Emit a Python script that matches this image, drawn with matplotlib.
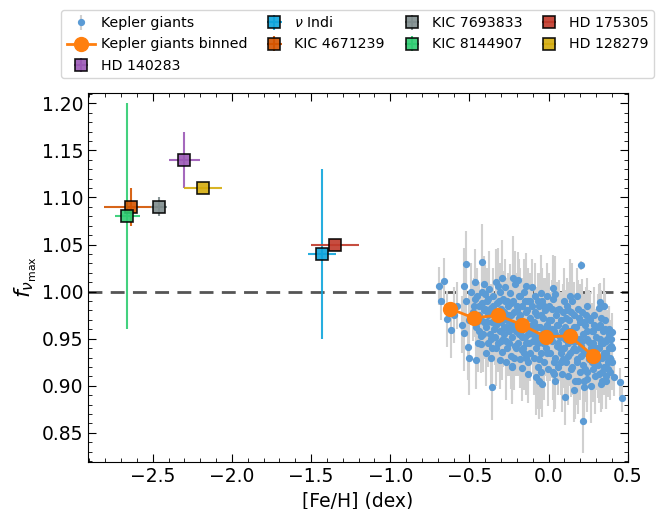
import matplotlib

matplotlib.use("Agg")
import matplotlib.pyplot as plt
from matplotlib.ticker import AutoMinorLocator, MultipleLocator

# Kepler red giants: metallicity, f_numax and its uncertainty
kepler_feh = [
    # outskirts of the cloud
    -0.694, -0.663, -0.677, -0.641, -0.614, -0.536, -0.508, -0.504,
    -0.456, -0.424, -0.367, -0.356, -0.304, -0.230, -0.171, -0.131,
    -0.082, -0.040, 0.034, 0.103, 0.163, 0.220, 0.223, 0.241,
    0.331, 0.413, 0.449, 0.464, 0.325, 0.318, 0.403, 0.392,
    -0.525, -0.418, 0.205, -0.462, -0.536, -0.409, -0.293, -0.223,
    -0.192, -0.146, -0.103, -0.051, 0.030, -0.321, -0.60, -0.58,
    -0.55, -0.52, -0.50, -0.49, 0.40, 0.38, 0.35, 0.36,
    # core
    -0.47, -0.46, -0.45, -0.44, -0.43, -0.42, -0.41, -0.40, -0.47, -0.44, -0.42, -0.41,
    -0.395, -0.39, -0.385, -0.38, -0.375, -0.37, -0.365, -0.36, -0.355, -0.35,
    -0.345, -0.34, -0.335, -0.33, -0.325, -0.32, -0.315, -0.31, -0.305, -0.30,
    -0.295, -0.29, -0.285, -0.28, -0.275, -0.27, -0.265, -0.26, -0.255, -0.25, -0.245, -0.24,
    -0.235, -0.23, -0.225, -0.22, -0.215, -0.21, -0.205, -0.20, -0.28, -0.26, -0.24, -0.22,
    -0.195, -0.19, -0.185, -0.18, -0.175, -0.17, -0.165, -0.16, -0.155, -0.15, -0.145, -0.14,
    -0.135, -0.13, -0.125, -0.12, -0.115, -0.11, -0.105, -0.10, -0.19, -0.17, -0.15, -0.13,
    -0.095, -0.09, -0.085, -0.08, -0.075, -0.07, -0.065, -0.06, -0.055, -0.05, -0.045, -0.04,
    -0.035, -0.03, -0.025, -0.02, -0.015, -0.01, -0.005, 0.0, -0.09, -0.07, -0.05, -0.03,
    0.005, 0.01, 0.015, 0.02, 0.025, 0.03, 0.035, 0.04, 0.045, 0.05, 0.055, 0.06,
    0.065, 0.07, 0.075, 0.08, 0.085, 0.09, 0.095, 0.10, 0.02, 0.04, 0.06, 0.08,
    0.105, 0.11, 0.115, 0.12, 0.125, 0.13, 0.135, 0.14, 0.145, 0.15, 0.155, 0.16,
    0.165, 0.17, 0.175, 0.18, 0.185, 0.19, 0.195, 0.20, 0.12, 0.14, 0.16, 0.18,
    0.205, 0.21, 0.215, 0.22, 0.225, 0.23, 0.235, 0.24, 0.245, 0.25, 0.255, 0.26,
    0.265, 0.27, 0.275, 0.28, 0.285, 0.29, 0.295, 0.30, 0.22, 0.24, 0.26, 0.28,
    0.305, 0.31, 0.315, 0.32, 0.325, 0.33, 0.335, 0.34, 0.345,
    0.35, 0.355, 0.36, 0.365, 0.37, 0.375, 0.38, 0.385, 0.39,
    # core, second pass
    -0.478, -0.468, -0.452, -0.438, -0.428, -0.415, -0.402, -0.392, -0.382, -0.372,
    -0.362, -0.352, -0.342, -0.332, -0.322, -0.312, -0.302, -0.448, -0.398, -0.348,
    -0.298, -0.288, -0.278, -0.268, -0.258, -0.248, -0.238, -0.228, -0.218, -0.208, -0.198, -0.188,
    -0.178, -0.168, -0.158, -0.148, -0.138, -0.128, -0.118, -0.108, -0.272, -0.232, -0.182, -0.142,
    -0.098, -0.088, -0.078, -0.068, -0.058, -0.048, -0.038, -0.028, -0.018, -0.008, 0.002, 0.012,
    0.022, 0.032, 0.042, 0.052, 0.062, 0.072, 0.082, 0.092, -0.062, -0.012, 0.038, 0.088,
    0.102, 0.112, 0.122, 0.132, 0.142, 0.152, 0.162, 0.172, 0.182, 0.192, 0.202, 0.212,
    0.222, 0.232, 0.242, 0.252, 0.262, 0.272, 0.282, 0.292, 0.138, 0.188, 0.238, 0.288,
    0.302, 0.312, 0.322, 0.332, 0.342, 0.352, 0.362, 0.372, 0.382, 0.392, 0.398, 0.338, 0.358, 0.378,
]
kepler_f = [
    1.006, 1.011, 0.990, 0.971, 0.959, 0.956, 0.941, 0.930,
    0.927, 0.944, 0.929, 0.899, 0.927, 0.921, 0.919, 0.912,
    0.909, 0.902, 0.912, 0.888, 0.896, 0.863, 0.899, 0.907,
    0.902, 0.909, 0.904, 0.887, 0.989, 0.983, 0.957, 0.950,
    1.029, 1.032, 1.028, 1.010, 1.006, 1.008, 1.015, 1.014,
    1.012, 1.006, 1.005, 0.999, 1.004, 1.006, 0.975, 0.985,
    0.965, 0.990, 0.970, 1.000, 0.940, 0.960, 0.985, 0.905,
    0.985, 0.962, 0.995, 0.975, 0.953, 0.988, 0.968, 0.998, 0.972, 0.958, 1.000, 0.980,
    0.962, 0.990, 0.945, 0.975, 1.003, 0.955, 0.983, 0.968, 0.940, 0.995,
    0.978, 0.952, 1.010, 0.965, 0.988, 0.945, 0.972, 1.000, 0.958, 0.982,
    0.936, 0.992, 0.962, 0.978, 1.005, 0.948, 0.970, 0.940, 0.985, 0.958, 0.999, 0.932,
    0.975, 0.952, 0.990, 0.966, 0.942, 1.008, 0.958, 0.980, 0.955, 0.990, 0.965, 0.930,
    0.945, 0.972, 0.995, 0.928, 0.958, 0.985, 0.940, 0.968, 1.000, 0.952, 0.978, 0.930,
    0.962, 0.990, 0.945, 0.972, 0.935, 0.958, 0.985, 0.948, 0.955, 0.938, 0.990, 0.925,
    0.968, 0.930, 0.995, 0.952, 0.975, 0.920, 0.945, 0.985, 0.962, 0.935, 0.990, 0.955,
    0.972, 0.925, 0.948, 0.980, 0.940, 0.965, 0.918, 0.958, 0.958, 0.990, 0.915, 0.960,
    0.985, 0.935, 0.970, 0.948, 0.915, 0.992, 0.958, 0.930, 0.975, 0.942, 0.965, 0.920,
    0.982, 0.952, 0.935, 0.970, 0.912, 0.958, 0.990, 0.940, 0.960, 0.998, 0.945, 0.925,
    0.962, 0.925, 0.985, 0.945, 0.910, 0.970, 0.935, 0.955, 0.990, 0.920, 0.948, 0.975,
    0.905, 0.938, 0.962, 0.928, 0.982, 0.950, 0.915, 0.968, 0.980, 0.918, 0.940, 0.995,
    0.942, 0.978, 0.922, 0.955, 0.905, 0.965, 0.935, 0.985, 0.915, 0.948, 0.928, 0.970,
    0.900, 0.940, 0.958, 0.918, 0.975, 0.935, 0.910, 0.952, 0.938, 0.958, 0.930, 0.945,
    0.925, 0.962, 0.940, 0.912, 0.950, 0.972, 0.930, 0.905, 0.945,
    0.920, 0.960, 0.935, 0.910, 0.950, 0.925, 0.940, 0.915, 0.930,
    0.978, 0.992, 0.968, 0.985, 0.970, 0.955, 0.982, 0.968, 0.992, 0.978,
    0.950, 0.985, 0.968, 0.940, 0.975, 0.990, 0.948, 0.945, 0.935, 0.960,
    0.968, 0.950, 0.990, 0.962, 0.975, 0.945, 0.988, 0.962, 0.978, 0.940, 0.985, 0.960,
    0.975, 0.952, 0.935, 0.968, 0.980, 0.955, 0.990, 0.965, 0.925, 0.920, 0.995, 0.945,
    0.955, 0.978, 0.940, 0.962, 0.928, 0.975, 0.945, 0.985, 0.958, 0.935, 0.970, 0.950,
    0.982, 0.925, 0.955, 0.980, 0.965, 0.940, 0.958, 0.928, 0.905, 0.995, 0.905, 0.978,
    0.950, 0.972, 0.932, 0.958, 0.978, 0.938, 0.962, 0.948, 0.925, 0.972, 0.932, 0.948,
    0.968, 0.918, 0.950, 0.972, 0.945, 0.925, 0.958, 0.922, 0.995, 0.905, 0.975, 0.965,
    0.940, 0.922, 0.965, 0.945, 0.958, 0.935, 0.948, 0.918, 0.955, 0.942, 0.925, 0.915, 0.970, 0.930,
]
kepler_err = [
    0.020, 0.025, 0.020, 0.030, 0.030, 0.040, 0.035, 0.040,
    0.030, 0.030, 0.035, 0.035, 0.030, 0.040, 0.035, 0.030,
    0.040, 0.035, 0.040, 0.030, 0.035, 0.034, 0.030, 0.035,
    0.030, 0.020, 0.015, 0.015, 0.020, 0.025, 0.020, 0.020,
    0.035, 0.040, 0.005, 0.035, 0.040, 0.030, 0.040, 0.045,
    0.030, 0.035, 0.030, 0.040, 0.035, 0.040, 0.030, 0.025,
    0.030, 0.035, 0.030, 0.030, 0.020, 0.025, 0.030, 0.030,
    0.030, 0.025, 0.030, 0.035, 0.030, 0.025, 0.040, 0.030, 0.020, 0.030, 0.035, 0.030,
    0.030, 0.035, 0.025, 0.030, 0.040, 0.030, 0.025, 0.030, 0.035, 0.030,
    0.020, 0.030, 0.035, 0.040, 0.030, 0.030, 0.025, 0.030, 0.035, 0.030,
    0.030, 0.030, 0.035, 0.025, 0.030, 0.040, 0.030, 0.030, 0.035, 0.025, 0.030, 0.035,
    0.030, 0.030, 0.040, 0.030, 0.025, 0.035, 0.030, 0.030, 0.030, 0.025, 0.030, 0.035,
    0.035, 0.030, 0.040, 0.030, 0.025, 0.030, 0.045, 0.030, 0.035, 0.030, 0.025, 0.040,
    0.030, 0.035, 0.030, 0.040, 0.030, 0.025, 0.030, 0.035, 0.030, 0.040, 0.030, 0.035,
    0.030, 0.040, 0.035, 0.025, 0.030, 0.045, 0.030, 0.035, 0.030, 0.030, 0.035, 0.030,
    0.025, 0.040, 0.030, 0.035, 0.030, 0.030, 0.040, 0.030, 0.035, 0.030, 0.040, 0.030,
    0.035, 0.030, 0.030, 0.040, 0.030, 0.035, 0.030, 0.045, 0.030, 0.025, 0.035, 0.030,
    0.030, 0.035, 0.030, 0.030, 0.040, 0.030, 0.035, 0.030, 0.030, 0.040, 0.030, 0.035,
    0.030, 0.040, 0.030, 0.035, 0.030, 0.030, 0.035, 0.030, 0.040, 0.030, 0.030, 0.035,
    0.040, 0.030, 0.035, 0.030, 0.030, 0.035, 0.030, 0.040, 0.030, 0.030, 0.035, 0.030,
    0.030, 0.035, 0.030, 0.030, 0.040, 0.030, 0.035, 0.030, 0.035, 0.030, 0.030, 0.030,
    0.040, 0.030, 0.030, 0.035, 0.030, 0.030, 0.040, 0.030, 0.030, 0.035, 0.030, 0.030,
    0.030, 0.035, 0.030, 0.030, 0.035, 0.030, 0.030, 0.030, 0.035,
    0.030, 0.030, 0.030, 0.035, 0.030, 0.030, 0.025, 0.030, 0.030,
    0.030, 0.035, 0.030, 0.025, 0.030, 0.040, 0.030, 0.035, 0.030, 0.030,
    0.035, 0.030, 0.025, 0.040, 0.030, 0.035, 0.030, 0.030, 0.035, 0.030,
    0.035, 0.030, 0.030, 0.040, 0.030, 0.035, 0.030, 0.030, 0.045, 0.030, 0.035, 0.030,
    0.030, 0.035, 0.040, 0.030, 0.030, 0.035, 0.030, 0.030, 0.040, 0.035, 0.030, 0.030,
    0.035, 0.030, 0.030, 0.040, 0.030, 0.035, 0.030, 0.030, 0.045, 0.030, 0.035, 0.030,
    0.030, 0.035, 0.040, 0.030, 0.030, 0.035, 0.030, 0.030, 0.040, 0.035, 0.030, 0.030,
    0.035, 0.030, 0.030, 0.040, 0.030, 0.035, 0.030, 0.030, 0.045, 0.030, 0.035, 0.030,
    0.030, 0.035, 0.040, 0.030, 0.030, 0.035, 0.030, 0.030, 0.040, 0.035, 0.030, 0.030,
    0.030, 0.035, 0.030, 0.030, 0.025, 0.035, 0.030, 0.030, 0.030, 0.025, 0.030, 0.035, 0.030, 0.030,
]

# binned Kepler giants
binned_feh = [-0.625, -0.473, -0.321, -0.171, -0.019, 0.133, 0.280]
binned_f = [0.982, 0.972, 0.975, 0.965, 0.952, 0.953, 0.932]

# metal-poor benchmark stars
star_names = ["HD 140283", r"$\nu$ Indi", "KIC 4671239", "KIC 7693833",
              "KIC 8144907", "HD 175305", "HD 128279"]
star_feh = [-2.30, -1.43, -2.64, -2.46, -2.66, -1.35, -2.18]
star_feh_err = [0.10, 0.09, 0.17, 0.05, 0.08, 0.15, 0.12]
star_f = [1.14, 1.04, 1.09, 1.09, 1.08, 1.05, 1.11]
star_f_err = [0.03, 0.09, 0.02, 0.01, 0.12, 0.0, 0.0]
star_colors = ["#9b59b6", "#0fa5dc", "#d35400", "#7f8c8d",
               "#2ecc71", "#c0392b", "#d4ac0d"]

plt.rcParams["font.size"] = 13.5
plt.rcParams["mathtext.fontset"] = "dejavusans"

fig = plt.figure(figsize=(6.56, 5.09), dpi=100)
ax = fig.add_axes([0.134, 0.0923, 0.823, 0.725])

ax.axhline(1.0, color="#555555", ls=(0, (5, 3)), lw=2.0, zorder=1)

handles = []
h = ax.errorbar(kepler_feh, kepler_f, yerr=kepler_err, fmt="o", ms=4.2,
                color="#5b9bd5", ecolor="#d0d0d0", elinewidth=1.5,
                label="Kepler giants", zorder=2)
handles.append(h)
(h,) = ax.plot(binned_feh, binned_f, "-o", color="#ff7f0e", ms=10, lw=2,
               label="Kepler giants binned", zorder=3)
handles.append(h)

for name, x, xe, y, ye, c in zip(star_names, star_feh, star_feh_err,
                                 star_f, star_f_err, star_colors):
    h = ax.errorbar(x, y, xerr=xe, yerr=ye if ye > 0 else None, fmt="s",
                    ms=8, color=c, mfc=c, mec="black", mew=1.2,
                    elinewidth=1.5, alpha=0.9, label=name, zorder=4)
    handles.append(h)

ax.set_xlim(-2.91, 0.5)
ax.set_ylim(0.819, 1.211)
ax.xaxis.set_major_locator(MultipleLocator(0.5))
ax.yaxis.set_major_locator(MultipleLocator(0.05))
ax.xaxis.set_minor_locator(AutoMinorLocator(5))
ax.yaxis.set_minor_locator(AutoMinorLocator(5))
ax.tick_params(which="both", direction="in", top=True, right=True)
ax.tick_params(which="major", length=6)
ax.tick_params(which="minor", length=3)

ax.set_xlabel("[Fe/H] (dex)")
ax.set_ylabel(r"$f_{\nu_{\max}}$", fontsize=16, labelpad=2)

ax.legend(handles=handles, labels=[hd.get_label() for hd in handles],
          loc="lower center", bbox_to_anchor=(0.5, 1.04), ncol=4,
          fontsize=10.2, handletextpad=0.4, columnspacing=0.9,
          borderaxespad=0.0)

fig.savefig("out.png", dpi=100)
